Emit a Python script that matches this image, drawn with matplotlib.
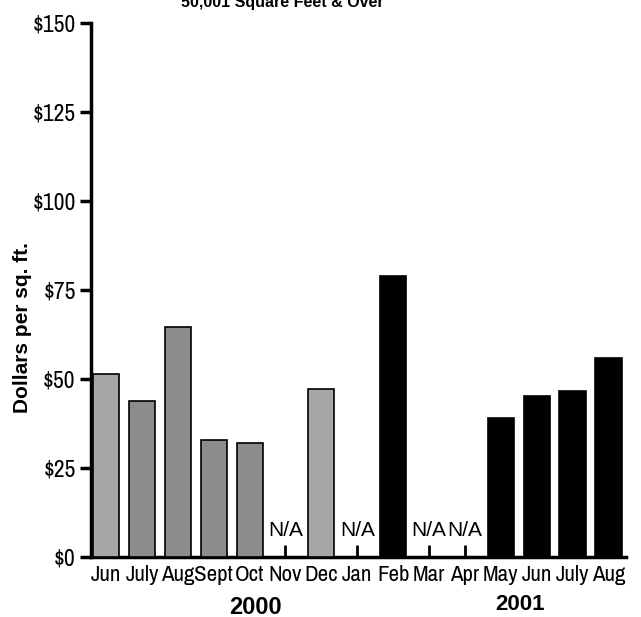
import matplotlib
matplotlib.use("Agg")
import matplotlib.pyplot as plt
import numpy as np
import logging
logging.getLogger("matplotlib.font_manager").setLevel(logging.ERROR)

NARROW = ["Liberation Sans Narrow", "Arial Narrow", "Archivo Narrow", "Liberation Sans", "DejaVu Sans"]
REG = ["Liberation Sans", "DejaVu Sans"]

months = ["Jun", "July", "Aug", "Sept", "Oct", "Nov", "Dec", "Jan", "Feb", "Mar", "Apr", "May", "Jun", "July", "Aug"]
values = [51.5, 43.7, 64.6, 33.0, 32.0, None, 47.1, None, 78.8, None, None, 39.0, 45.2, 46.6, 55.9]
colors = ["#a6a6a6", "#8c8c8c", "#8c8c8c", "#8c8c8c", "#8c8c8c", "#8c8c8c", "#a6a6a6", "#000000",
          "#000000", "#000000", "#000000", "#000000", "#000000", "#000000", "#000000"]
yticks = [0, 25, 50, 75, 100, 125, 150]
years = ["2000", "2001"]

fig = plt.figure(figsize=(6.41, 6.17), dpi=100)
ax = fig.add_axes([91/641, 1-557/617, (626-91)/641, (557-23)/617])

x = np.arange(len(months))
for i, v in enumerate(values):
    if v is None:
        ax.plot([i, i], [0, 3.4], color="black", lw=2, solid_capstyle="butt", clip_on=False)
        ax.text(i, 4.8, "N/A", ha="center", va="bottom", fontsize=15, family=REG)
    else:
        ax.bar(i, v, width=0.73, color=colors[i], edgecolor="black", linewidth=1.2, zorder=3)

ax.set_xlim(-0.42, 14.49)
ax.set_ylim(0, 150)
ax.set_yticks(yticks)
ax.set_yticklabels([f"${t}" for t in yticks], family=NARROW, fontsize=17)
ax.set_xticks(x)
ax.set_xticklabels(months, family=NARROW, fontsize=16.5)
ax.tick_params(axis="y", direction="out", length=8, width=2.5, pad=3)
ax.tick_params(axis="x", length=0, pad=6)
for s in ["top", "right"]:
    ax.spines[s].set_visible(False)
ax.spines["left"].set_linewidth(2.5)
ax.spines["bottom"].set_linewidth(2.5)

fig.text(255/641, 1-607/617, years[0], ha="center", va="center", fontsize=17, fontweight="bold", family=REG)
fig.text(520/641, 1-605/617, years[1], ha="center", va="center", fontsize=16, fontweight="bold", family=REG)
fig.text(23/641, 1-328/617, "Dollars per sq. ft.", rotation=90, ha="center", va="center", fontsize=15, fontweight="bold", family=REG)
fig.text(282/641, 1-7/617, "50,001 Square Feet & Over", ha="center", va="baseline", fontsize=11.5, fontweight="bold", family=REG)

fig.savefig("out.png", dpi=100)
